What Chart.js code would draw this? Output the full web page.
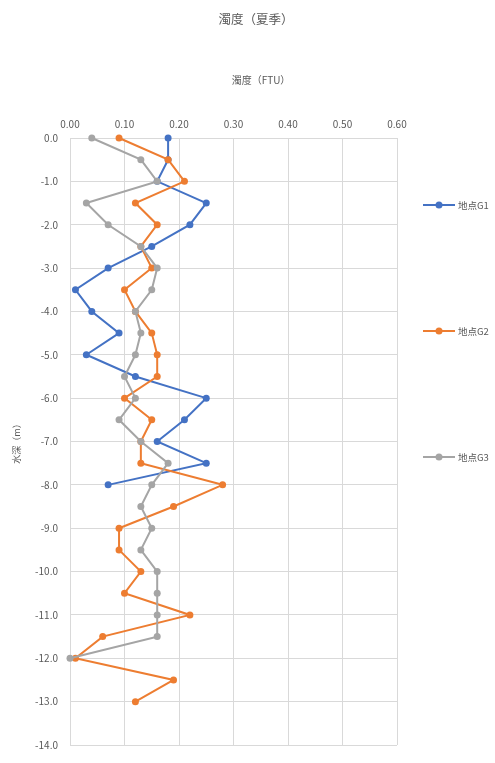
<!DOCTYPE html>
<html>
<head>
<meta charset="utf-8">
<script src="https://cdn.jsdelivr.net/npm/chart.js@4.4.1/dist/chart.umd.min.js"></script>
<style>
  html, body { margin: 0; padding: 0; background: #ffffff; }
  #wrap { width: 495px; height: 763px; }
</style>
</head>
<body>
<div id="wrap"><canvas id="c" width="495" height="763"></canvas></div>
<script>
// ---- data ----
const chartTitle = '濁度（夏季）';
const xAxisTitle = '濁度（FTU）';
const yAxisTitle = '水深（m）';
const seriesNames = ['地点G1', '地点G2', '地点G3'];
const depths = [0, -0.5, -1, -1.5, -2, -2.5, -3, -3.5, -4, -4.5, -5, -5.5, -6, -6.5, -7, -7.5, -8,
                -8.5, -9, -9.5, -10, -10.5, -11, -11.5, -12, -12.5, -13];
const g1 = [0.18, 0.18, 0.16, 0.25, 0.22, 0.15, 0.07, 0.01, 0.04, 0.09, 0.03, 0.12, 0.25, 0.21, 0.16, 0.25, 0.07];
const g2 = [0.09, 0.18, 0.21, 0.12, 0.16, 0.13, 0.15, 0.10, 0.12, 0.15, 0.16, 0.16, 0.10, 0.15, 0.13, 0.13, 0.28,
            0.19, 0.09, 0.09, 0.13, 0.10, 0.22, 0.06, 0.01, 0.19, 0.12];
const g3 = [0.04, 0.13, 0.16, 0.03, 0.07, 0.13, 0.16, 0.15, 0.12, 0.13, 0.12, 0.10, 0.12, 0.09, 0.13, 0.18, 0.15,
            0.13, 0.15, 0.13, 0.16, 0.16, 0.16, 0.16, 0.00];
const xTicks = [0, 0.1, 0.2, 0.3, 0.4, 0.5, 0.6];
const yMin = -14, yMax = 0;

const colors = ['#4472C4', '#ED7D31', '#A5A5A5'];
const FONT = '"Noto Sans CJK JP", "Noto Sans", sans-serif';
const TXT = '#595959';

function toPoints(vals) { return vals.map((v, i) => ({ x: v, y: depths[i] })); }
const allSeries = [g1, g2, g3];

const datasets = allSeries.map((s, i) => ({
  label: seriesNames[i],
  data: toPoints(s),
  showLine: true,
  borderColor: colors[i],
  backgroundColor: colors[i],
  borderWidth: 2,
  pointRadius: 3.5,
  pointHoverRadius: 3.5,
  pointBorderWidth: 0,
  order: 2 - i,
  clip: false,
  tension: 0
}));

const decorPlugin = {
  id: 'decor',
  afterDraw(chart) {
    const ctx = chart.ctx;
    ctx.save();
    ctx.fillStyle = TXT;
    ctx.textAlign = 'center';
    ctx.textBaseline = 'middle';
    ctx.font = '12.5px ' + FONT;
    ctx.fillText(chartTitle, 256, 19);
    ctx.font = '10px ' + FONT;
    ctx.fillText(xAxisTitle, 261, 80);
    // legend
    const ys = [205, 331, 457];
    chart.data.datasets.forEach((ds, i) => {
      const y = ys[i];
      ctx.strokeStyle = ds.borderColor;
      ctx.lineWidth = 2;
      ctx.beginPath();
      ctx.moveTo(423, y);
      ctx.lineTo(455, y);
      ctx.stroke();
      ctx.fillStyle = ds.backgroundColor;
      ctx.beginPath();
      ctx.arc(439, y, 3.5, 0, Math.PI * 2);
      ctx.fill();
      ctx.fillStyle = TXT;
      ctx.textAlign = 'left';
      ctx.font = '9.5px ' + FONT;
      ctx.fillText(ds.label, 458, y);
    });
    ctx.restore();
  }
};

new Chart(document.getElementById('c'), {
  type: 'scatter',
  data: { datasets },
  options: {
    responsive: false,
    animation: false,
    devicePixelRatio: 1,
    layout: { padding: { left: 0, top: 0, right: 98, bottom: 11 } },
    plugins: {
      legend: { display: false },
      title: { display: false },
      tooltip: { enabled: false }
    },
    scales: {
      x: {
        type: 'linear',
        position: 'top',
        min: 0,
        max: 0.6,
        afterBuildTicks(scale) { scale.ticks = xTicks.map(v => ({ value: v })); },
        afterFit(scale) { scale.height = 138; },
        ticks: {
          color: TXT,
          font: { family: FONT, size: 10 },
          padding: 8,
          callback: v => Number(v).toFixed(2)
        },
        grid: { color: '#D9D9D9', lineWidth: 1, drawTicks: false },
        border: { display: true, color: '#D9D9D9' }
      },
      y: {
        type: 'linear',
        position: 'left',
        min: yMin,
        max: yMax,
        ticks: {
          stepSize: 1,
          color: TXT,
          font: { family: FONT, size: 10 },
          padding: 12,
          callback: v => Number(v).toFixed(1)
        },
        afterFit(scale) { scale.width = 70; },
        title: {
          display: true,
          text: yAxisTitle,
          color: TXT,
          font: { family: FONT, size: 9 },
          padding: { top: 11, bottom: 0 }
        },
        grid: { color: '#D9D9D9', lineWidth: 1, drawTicks: false },
        border: { display: true, color: '#D9D9D9' }
      }
    }
  },
  plugins: [decorPlugin]
});
</script>
</body>
</html>
